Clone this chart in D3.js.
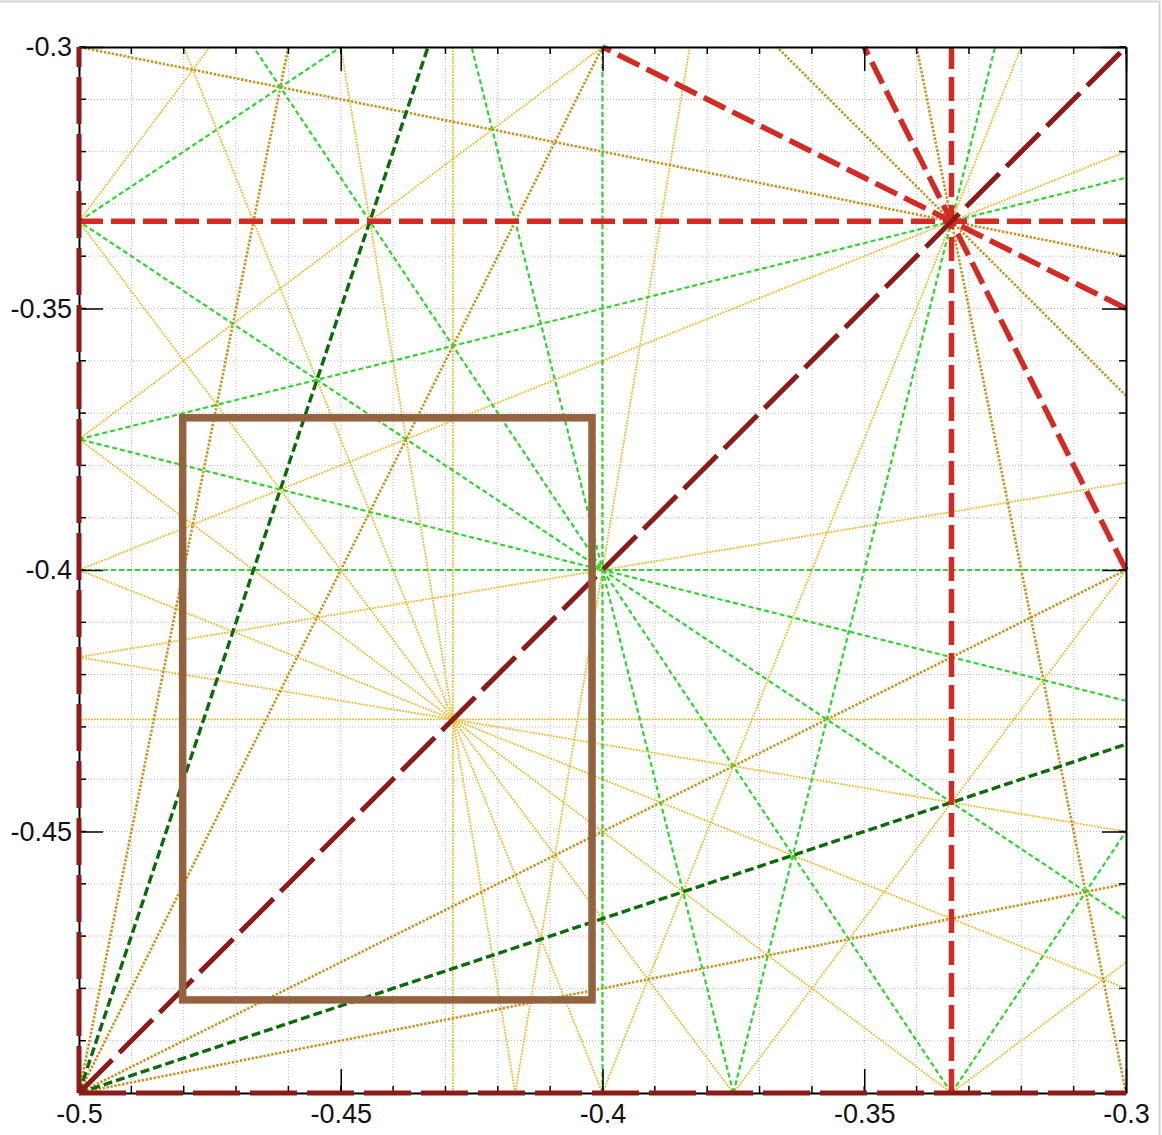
<!DOCTYPE html>
<html>
<head>
<meta charset="utf-8">
<script src="https://cdn.jsdelivr.net/npm/d3@7"></script>
<style>
  html, body { margin: 0; padding: 0; background: #fff; }
  svg { display: block; }
  text { font-family: "Liberation Sans", Arial, sans-serif; }
</style>
</head>
<body>
<svg id="chart" width="1162" height="1135"></svg>
<script>
// ---- data: lines a*x + b*y = c, grouped by class ----
const darkRedLines   = [[2,0,-1],[0,2,-1],[1,-1,0]];
const redLines       = [[3,0,-1],[0,3,-1],[2,1,-1],[1,2,-1]];
const darkGreenLines = [[3,-1,-1],[1,-3,1]];
const greenLines     = [[5,0,-2],[0,5,-2],[4,1,-2],[1,4,-2],[3,2,-2],[2,3,-2],
                        [4,-1,-1],[1,-4,1],[3,-2,0],[2,-3,0]];
const darkGoldLines  = [[5,1,-2],[1,5,-2],[5,-1,-2],[1,-5,2],[3,3,-2],[4,-2,-1],[2,-4,1]];
const lightGoldLines = [[7,0,-3],[0,7,-3],[6,1,-3],[1,6,-3],[5,2,-3],[2,5,-3],[4,3,-3],[3,4,-3],
                        [6,-1,-2],[1,-6,2],[5,-2,-1],[2,-5,1],[4,-3,-1],[4,-3,0],[3,-4,0],[3,-4,1]];
// highlighted box [xLeft, xRight, yTop, yBottom]
const boxX = [-0.4802, -0.4020];
const boxY = [-0.3709, -0.4822];
// axis ticks and labels
const xMajorTicks = [-0.5, -0.45, -0.4, -0.35, -0.3];
const xTickLabels = ["-0.5", "-0.45", "-0.4", "-0.35", "-0.3"];
const yMajorTicks = [-0.3, -0.35, -0.4, -0.45, -0.5];
const yTickLabels = ["-0.3", "-0.35", "-0.4", "-0.45", ""];
const domainX = [-0.5, -0.3];
const domainY = [-0.3, -0.5];

const svg = d3.select("#chart");
const L = 79, R = 1126, T = 47, B = 1093;
const x = d3.scaleLinear().domain(domainX).range([L, R]);
const y = d3.scaleLinear().domain(domainY).range([T, B]);
const minorX = x.ticks(20), minorY = y.ticks(20);

// outer frame
svg.append("path").attr("d", `M0,1.5H1159.5V1135`).attr("fill","none").attr("stroke","#d4d4d4").attr("stroke-width",2);

// grid
const grid = svg.append("g");
grid.selectAll(".gx").data(minorX).join("line")
  .attr("x1", d => x(d)).attr("x2", d => x(d)).attr("y1", T).attr("y2", B)
  .attr("stroke", "#b8b8b8").attr("stroke-width", 1).attr("stroke-dasharray", "1,2");
grid.selectAll(".gy").data(minorY).join("line")
  .attr("y1", d => y(d)).attr("y2", d => y(d)).attr("x1", L).attr("x2", R)
  .attr("stroke", "#b8b8b8").attr("stroke-width", 1).attr("stroke-dasharray", "1,2");

function clipLine([a, b, c]) {
  const [x0, x1] = [domainX[0], domainX[1]];
  const [y0, y1] = [domainY[1], domainY[0]];
  const eps = 1e-9, pts = [];
  if (b !== 0) for (const xv of [x0, x1]) { const yv = (c - a*xv)/b; if (yv >= y0-eps && yv <= y1+eps) pts.push([xv, yv]); }
  if (a !== 0) for (const yv of [y0, y1]) { const xv = (c - b*yv)/a; if (xv >= x0-eps && xv <= x1+eps) pts.push([xv, yv]); }
  const uniq = [];
  pts.forEach(p => { if (!uniq.some(q => Math.abs(q[0]-p[0]) < 1e-9 && Math.abs(q[1]-p[1]) < 1e-9)) uniq.push(p); });
  if (uniq.length < 2) return null;
  uniq.sort((p, q) => (p[1] - q[1]) || (p[0] - q[0]));
  return [uniq[0], uniq[uniq.length-1]];
}

function drawSet(data, color, width, dash) {
  const g = svg.append("g");
  g.selectAll("line").data(data.map(clipLine).filter(Boolean)).join("line")
    .attr("x1", d => x(d[0][0])).attr("y1", d => y(d[0][1]))
    .attr("x2", d => x(d[1][0])).attr("y2", d => y(d[1][1]))
    .attr("stroke", color).attr("stroke-width", width)
    .attr("stroke-dasharray", dash).attr("fill", "none");
}

drawSet(lightGoldLines, "#EDBA2E", 1.8, "1.8,1.2");
drawSet(darkGoldLines, "#C8931F", 2.6, "2.4,1.6");
drawSet(greenLines, "#2ED52E", 2.2, "5,3");
drawSet(darkGreenLines, "#0B6B0B", 3.4, "9,4");
drawSet(redLines, "#D42A24", 5.5, "24,8");

// axes
const fontSize = 27;
const axB = d3.axisBottom(x).tickValues(xMajorTicks).tickSize(-24).tickSizeOuter(0).tickPadding(11)
  .tickFormat((d, i) => xTickLabels[i]);
const axL = d3.axisLeft(y).tickValues(yMajorTicks).tickSize(-24).tickSizeOuter(0).tickPadding(7)
  .tickFormat((d, i) => yTickLabels[i]);
function styleAxis(g) {
  g.select(".domain").attr("stroke", "#000").attr("stroke-width", 2);
  g.selectAll(".tick line").attr("stroke", "#000").attr("stroke-width", 1.5);
  g.selectAll("text").attr("font-size", fontSize).attr("fill", "#111")
    .attr("font-family", '"Liberation Sans", Arial, sans-serif');
}
svg.append("g").attr("transform", `translate(0,${B})`).call(axB).call(styleAxis);
svg.append("g").attr("transform", `translate(${L},0)`).call(axL).call(styleAxis);
svg.append("g").attr("transform", `translate(0,${T})`)
  .call(d3.axisTop(x).tickValues(xMajorTicks).tickSize(-24).tickSizeOuter(0).tickFormat("")).call(styleAxis);
svg.append("g").attr("transform", `translate(${R},0)`)
  .call(d3.axisRight(y).tickValues(yMajorTicks).tickSize(-24).tickSizeOuter(0).tickFormat("")).call(styleAxis);
// minor ticks
const minorG = svg.append("g");
[["b", B, -1], ["t", T, 1]].forEach(([k, yy, s]) => {
  minorG.selectAll(".m"+k).data(minorX).join("line")
    .attr("x1", d => x(d)).attr("x2", d => x(d)).attr("y1", yy).attr("y2", yy + s*7)
    .attr("stroke", "#000").attr("stroke-width", 1.5);
});
[["l", L, 1], ["r", R, -1]].forEach(([k, xx, s]) => {
  minorG.selectAll(".m"+k).data(minorY).join("line")
    .attr("y1", d => y(d)).attr("y2", d => y(d)).attr("x1", xx).attr("x2", xx + s*7)
    .attr("stroke", "#000").attr("stroke-width", 1.5);
});

drawSet(darkRedLines, "#8C1A1A", 5, "47,10");

// highlighted box
svg.append("rect")
  .attr("x", x(boxX[0])).attr("y", y(boxY[0]))
  .attr("width", x(boxX[1]) - x(boxX[0])).attr("height", y(boxY[1]) - y(boxY[0]))
  .attr("fill", "none").attr("stroke", "#93623E").attr("stroke-width", 7.5);
</script>
</body>
</html>
